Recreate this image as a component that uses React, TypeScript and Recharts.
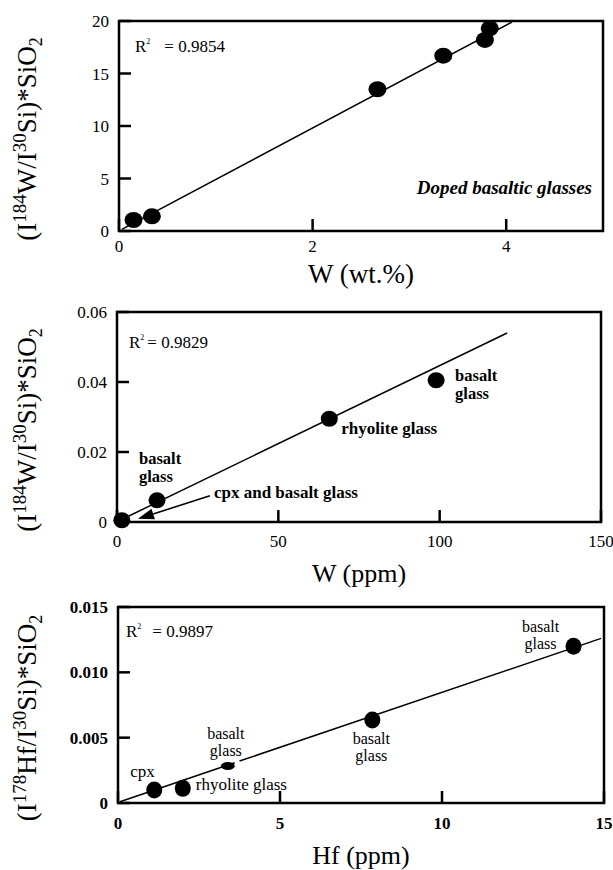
import React from 'react';
import { ScatterChart, Scatter, XAxis, YAxis, ReferenceLine, ReferenceArea, ReferenceDot } from 'recharts';

const SERIF = '"Liberation Serif", "Times New Roman", serif';

// top panel: doped basaltic glasses
const dopedW = [0.15, 0.34, 2.67, 3.35, 3.78, 3.83];
const dopedRatio = [1.05, 1.4, 13.5, 16.7, 18.2, 19.3];
const dopedFitX = [0.03, 4.06];
const dopedFitY = [0.15, 19.9];
const dopedXTicks = [0, 2, 4];
const dopedYTicks = [0, 5, 10, 15, 20];

// middle panel: W in natural samples
const natW = [1.5, 12.4, 65.8, 98.9];
const natWRatio = [0.0005, 0.0062, 0.0295, 0.0405];
const natWNotes = [[], ['basalt', 'glass'], ['rhyolite glass'], ['basalt', 'glass']];
const natWFitX = [0.5, 120.9];
const natWFitY = [0.0003, 0.054];
const natWArrowX = [28.8, 6.5];
const natWArrowY = [0.0075, 0.0009];
const natWArrowNote = 'cpx and basalt glass';
const natWXTicks = [0, 50, 100, 150];
const natWYTicks = [0, 0.02, 0.04, 0.06];

// bottom panel: Hf
const hfPpm = [1.12, 2.0, 7.85, 14.06];
const hfRatio = [0.001, 0.00112, 0.00635, 0.012];
const hfNotes = [['cpx'], ['rhyolite glass'], ['basalt', 'glass'], ['basalt', 'glass']];
const hfSmallPpm = [3.39];
const hfSmallRatio = [0.00283];
const hfSmallNotes = [['basalt', 'glass']];
const hfFitX = [0.06, 3.6, 3.75, 14.91];
const hfFitY = [0.0001, 0.00308, 0.00321, 0.0126];
const hfXTicks = [0, 5, 10, 15];
const hfYTicks = [0, 0.005, 0.01, 0.015];

const r2Values = ['0.9854', '0.9829', '0.9897'];

const pts = (xs: number[], ys: number[]) => xs.map((x, i) => ({ x, y: ys[i] }));

const dot = (rx: number, ry: number) => (p: any) => (
  <ellipse cx={p.cx} cy={p.cy} rx={rx} ry={ry} fill="#000" />
);

const noteShape = (lines: string[], dx: number, dy: number, anchor: 'start' | 'middle' | 'end', bold: boolean, size = 17, lh = 17) => (p: any) => (
  <text x={p.cx + dx} y={p.cy + dy} textAnchor={anchor} fontFamily={SERIF} fontSize={size} fontWeight={bold ? 700 : 400} fill="#000">
    {lines.map((l, i) => (
      <tspan key={i} x={p.cx + dx} dy={i === 0 ? 0 : lh}>{l}</tspan>
    ))}
  </text>
);

const arrowShape = (p: any) => {
  const { x1, y1, x2, y2 } = p;
  const len = Math.hypot(x2 - x1, y2 - y1) || 1;
  const ux = (x2 - x1) / len;
  const uy = (y2 - y1) / len;
  const bx = x2 - ux * 16;
  const by = y2 - uy * 16;
  return (
    <g>
      <line x1={x1} y1={y1} x2={bx} y2={by} stroke="#000" strokeWidth={1.6} />
      <polygon points={`${x2},${y2} ${bx - uy * 5.5},${by + ux * 5.5} ${bx + uy * 5.5},${by - ux * 5.5}`} fill="#000" />
    </g>
  );
};

const yLabel = (iso: string, el: string) => (props: any) => {
  const vb = props.viewBox;
  const cy = vb.y + vb.height / 2 + 13;
  return (
    <text transform={`translate(36, ${cy}) rotate(-90)`} textAnchor="middle" fontFamily={SERIF} fontSize={27} fill="#000">
      <tspan>(I</tspan>
      <tspan fontSize={19} dy={-10}>{iso}</tspan>
      <tspan dy={10}>{el}/I</tspan>
      <tspan fontSize={19} dy={-10}>30</tspan>
      <tspan dy={10}>Si)*SiO</tspan>
      <tspan fontSize={18} dy={6}>2</tspan>
    </text>
  );
};

const xTitle = (title: string, gap: number, size: number) => (props: any) => {
  const vb = props.viewBox;
  return (
    <text x={vb.x + vb.width / 2} y={vb.y + gap} textAnchor="middle" fontFamily={SERIF} fontSize={size} fill="#000">
      {title}
    </text>
  );
};

const frameText = (r2: string, dx: number, dy: number, gap: number, extra?: boolean) => (props: any) => {
  const vb = props.viewBox;
  return (
    <g>
      <text x={vb.x + dx} y={vb.y + dy} fontFamily={SERIF} fontSize={17} fill="#000">
        <tspan>R</tspan>
        <tspan fontSize={8} dy={-8}>2</tspan>
        <tspan dy={8} dx={gap}>= {r2}</tspan>
      </text>
      {extra && (
        <text x={vb.x + vb.width - 11} y={vb.y + 173} textAnchor="end" fontFamily={SERIF} fontSize={19} fontWeight={700} fontStyle="italic" fill="#000">
          Doped basaltic glasses
        </text>
      )}
    </g>
  );
};

const tickStyle = (bold: boolean) => ({ fill: '#000', fontSize: 17, fontFamily: SERIF, fontWeight: bold ? 700 : 400 });
const tickLine = { stroke: '#000', strokeWidth: 2.5 };
const fix = (d: number) => (v: number) => (v === 0 ? '0' : v.toFixed(d));

export default function App() {
  return (
    <div style={{ position: 'absolute', left: 0, top: 0, width: 613, height: 870, background: '#fff' }}>
      <div style={{ position: 'absolute', left: 0, top: 0 }}>
        <ScatterChart width={613} height={290} margin={{ top: 21, right: 10, bottom: 0, left: 0 }}>
          <XAxis type="number" dataKey="x" domain={[0, 5]} ticks={dopedXTicks} interval={0} height={59}
            axisLine={false} tickLine={tickLine} tickSize={-12} tickMargin={21} tick={tickStyle(false)}
            label={{ content: xTitle('W (wt.%)', 52, 27) }} />
          <YAxis type="number" dataKey="y" domain={[0, 20]} ticks={dopedYTicks} interval={0} width={119}
            axisLine={false} tickLine={tickLine} tickSize={-12} tickMargin={22} tick={tickStyle(false)}
            label={{ content: yLabel('184', 'W') }} />
          <ReferenceArea x1={0} x2={5} y1={0} y2={20} fill="none" stroke="#000" strokeWidth={2.5}
            label={{ content: frameText(r2Values[0], 16, 31, 14, true) }} />
          <ReferenceLine segment={[{ x: dopedFitX[0], y: dopedFitY[0] }, { x: dopedFitX[1], y: dopedFitY[1] }]} stroke="#000" strokeWidth={1.5} />
          <Scatter data={pts(dopedW, dopedRatio)} shape={dot(9, 8)} isAnimationActive={false} />
        </ScatterChart>
      </div>

      <div style={{ position: 'absolute', left: 0, top: 290 }}>
        <ScatterChart width={613} height={302} margin={{ top: 22, right: 12, bottom: 0, left: 0 }}>
          <XAxis type="number" dataKey="x" domain={[0, 150]} ticks={natWXTicks} interval={0} height={70}
            axisLine={false} tickLine={tickLine} tickSize={-12} tickMargin={25} tick={tickStyle(false)}
            label={{ content: xTitle('W (ppm)', 60, 26) }} />
          <YAxis type="number" dataKey="y" domain={[0, 0.06]} ticks={natWYTicks} interval={0} width={117}
            axisLine={false} tickLine={tickLine} tickSize={-12} tickMargin={22} tick={tickStyle(false)}
            tickFormatter={fix(2)} label={{ content: yLabel('184', 'W') }} />
          <ReferenceArea x1={0} x2={150} y1={0} y2={0.06} fill="none" stroke="#000" strokeWidth={2.5}
            label={{ content: frameText(r2Values[1], 12, 36, 3) }} />
          <ReferenceLine segment={[{ x: natWFitX[0], y: natWFitY[0] }, { x: natWFitX[1], y: natWFitY[1] }]} stroke="#000" strokeWidth={1.5} />
          <ReferenceLine segment={[{ x: natWArrowX[0], y: natWArrowY[0] }, { x: natWArrowX[1], y: natWArrowY[1] }]} shape={arrowShape} />
          <Scatter data={pts(natW, natWRatio)} shape={dot(8.5, 8)} isAnimationActive={false} />
          <ReferenceDot x={natW[1]} y={natWRatio[1]} shape={noteShape(natWNotes[1], -18, -36, 'start', true, 16.5, 17.5)} />
          <ReferenceDot x={natW[2]} y={natWRatio[2]} shape={noteShape(natWNotes[2], 12, 15, 'start', true)} />
          <ReferenceDot x={natW[3]} y={natWRatio[3]} shape={noteShape(natWNotes[3], 19, 1, 'start', true, 16.5, 17.5)} />
          <ReferenceDot x={natWArrowX[0]} y={natWArrowY[0]} shape={noteShape([natWArrowNote], 4, 2, 'start', true)} />
        </ScatterChart>
      </div>

      <div style={{ position: 'absolute', left: 0, top: 580 }}>
        <ScatterChart width={613} height={290} margin={{ top: 27, right: 9, bottom: 0, left: 0 }}>
          <XAxis type="number" dataKey="x" domain={[0, 15]} ticks={hfXTicks} interval={0} height={67}
            axisLine={false} tickLine={tickLine} tickSize={-12} tickMargin={26} tick={tickStyle(true)}
            label={{ content: xTitle('Hf (ppm)', 61, 26) }} />
          <YAxis type="number" dataKey="y" domain={[0, 0.015]} ticks={hfYTicks} interval={0} width={118}
            axisLine={false} tickLine={tickLine} tickSize={-12} tickMargin={22} tick={tickStyle(true)}
            tickFormatter={fix(3)} label={{ content: yLabel('178', 'Hf') }} />
          <ReferenceArea x1={0} x2={15} y1={0} y2={0.015} fill="none" stroke="#000" strokeWidth={2.5}
            label={{ content: frameText(r2Values[2], 8, 30, 11) }} />
          <ReferenceLine segment={[{ x: hfFitX[0], y: hfFitY[0] }, { x: hfFitX[1], y: hfFitY[1] }]} stroke="#000" strokeWidth={1.5} />
          <ReferenceLine segment={[{ x: hfFitX[2], y: hfFitY[2] }, { x: hfFitX[3], y: hfFitY[3] }]} stroke="#000" strokeWidth={1.5} />
          <Scatter data={pts(hfPpm, hfRatio)} shape={dot(8, 8.5)} isAnimationActive={false} />
          <Scatter data={pts(hfSmallPpm, hfSmallRatio)} shape={dot(7, 4)} isAnimationActive={false} />
          <ReferenceDot x={hfPpm[0]} y={hfRatio[0]} shape={noteShape(hfNotes[0], -24, -13, 'start', false)} />
          <ReferenceDot x={hfPpm[1]} y={hfRatio[1]} shape={noteShape(hfNotes[1], 13, 2, 'start', false)} />
          <ReferenceDot x={hfPpm[2]} y={hfRatio[2]} shape={noteShape(hfNotes[2], -1, 24, 'middle', false, 16, 16.5)} />
          <ReferenceDot x={hfPpm[3]} y={hfRatio[3]} shape={noteShape(hfNotes[3], -33, -14, 'middle', false, 16, 16.5)} />
          <ReferenceDot x={hfSmallPpm[0]} y={hfSmallRatio[0]} shape={noteShape(hfSmallNotes[0], -2, -27, 'middle', false, 16, 16.5)} />
        </ScatterChart>
      </div>
    </div>
  );
}
